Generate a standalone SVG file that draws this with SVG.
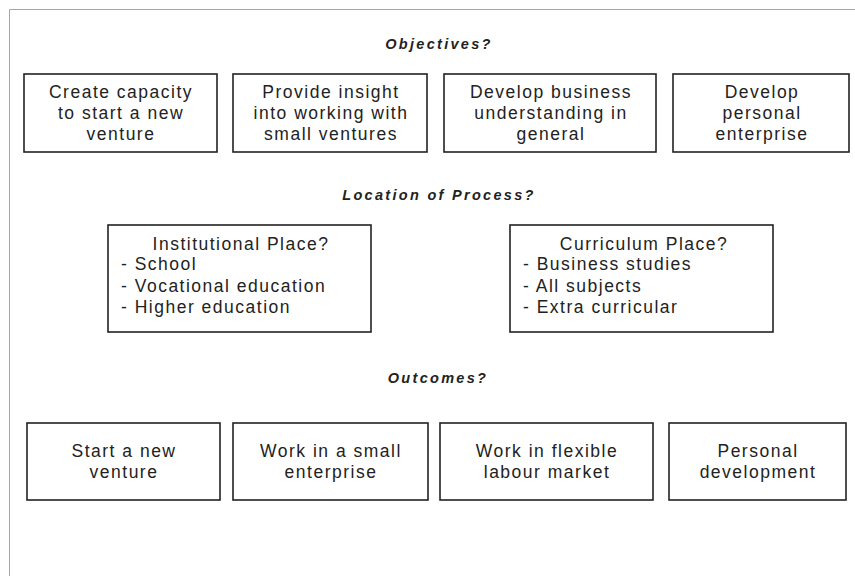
<svg xmlns="http://www.w3.org/2000/svg" width="855" height="576" viewBox="0 0 855 576">
  <style>
    .frame { stroke: #a6a6a6; stroke-width: 1; fill: none; }
    .box { fill: #ffffff; stroke: #222222; stroke-width: 1.6; }
    .txt { font-family: "Liberation Sans", Arial, sans-serif; font-size: 17.5px; fill: #222222; letter-spacing: 1.5px; }
    .mid { text-anchor: middle; }
    .head { font-family: "Liberation Sans", Arial, sans-serif; font-size: 14.5px; font-weight: bold; font-style: italic; fill: #222222; letter-spacing: 2.3px; text-anchor: middle; }
  </style>
  <rect width="855" height="576" fill="#ffffff"/>

  <!-- page frame -->
  <g id="frame">
    <line class="frame" x1="9.5" y1="9.5" x2="855" y2="9.5"/>
    <line class="frame" x1="9.5" y1="9.5" x2="9.5" y2="576"/>
  </g>

  <!-- section headings -->
  <g id="headings">
    <text class="head" x="439" y="49">Objectives?</text>
    <text class="head" x="439" y="200">Location of Process?</text>
    <text class="head" x="438" y="383">Outcomes?</text>
  </g>

  <!-- objectives row -->
  <g id="obj1">
    <rect class="box" x="24" y="74" width="193" height="78"/>
    <text class="txt mid" x="121" y="98">Create capacity</text>
    <text class="txt mid" x="121" y="119">to start a new</text>
    <text class="txt mid" x="121" y="140">venture</text>
  </g>
  <g id="obj2">
    <rect class="box" x="233" y="74" width="194" height="78"/>
    <text class="txt mid" x="331" y="98">Provide insight</text>
    <text class="txt mid" x="331" y="119">into working with</text>
    <text class="txt mid" x="331" y="140">small ventures</text>
  </g>
  <g id="obj3">
    <rect class="box" x="444" y="74" width="212" height="78"/>
    <text class="txt mid" x="551" y="98">Develop business</text>
    <text class="txt mid" x="551" y="119">understanding in</text>
    <text class="txt mid" x="551" y="140">general</text>
  </g>
  <g id="obj4">
    <rect class="box" x="673" y="74" width="176" height="78"/>
    <text class="txt mid" x="762" y="98">Develop</text>
    <text class="txt mid" x="762" y="119">personal</text>
    <text class="txt mid" x="762" y="140">enterprise</text>
  </g>

  <!-- location row -->
  <g id="loc-institution">
    <rect class="box" x="108" y="225" width="263" height="107"/>
    <text class="txt mid" x="241" y="250">Institutional Place?</text>
    <text class="txt" x="121" y="270">- School</text>
    <text class="txt" x="121" y="292">- Vocational education</text>
    <text class="txt" x="121" y="313">- Higher education</text>
  </g>
  <g id="loc-curriculum">
    <rect class="box" x="510" y="225" width="263" height="107"/>
    <text class="txt mid" x="644" y="250">Curriculum Place?</text>
    <text class="txt" x="523" y="270">- Business studies</text>
    <text class="txt" x="523" y="292">- All subjects</text>
    <text class="txt" x="523" y="313">- Extra curricular</text>
  </g>

  <!-- outcomes row -->
  <g id="out1">
    <rect class="box" x="27" y="423" width="193" height="77"/>
    <text class="txt mid" x="124" y="457">Start a new</text>
    <text class="txt mid" x="124" y="478">venture</text>
  </g>
  <g id="out2">
    <rect class="box" x="233" y="423" width="195" height="77"/>
    <text class="txt mid" x="331" y="457">Work in a small</text>
    <text class="txt mid" x="331" y="478">enterprise</text>
  </g>
  <g id="out3">
    <rect class="box" x="440" y="423" width="213" height="77"/>
    <text class="txt mid" x="547" y="457">Work in flexible</text>
    <text class="txt mid" x="547" y="478">labour market</text>
  </g>
  <g id="out4">
    <rect class="box" x="669" y="423" width="177" height="77"/>
    <text class="txt mid" x="758" y="457">Personal</text>
    <text class="txt mid" x="758" y="478">development</text>
  </g>

  <!-- no connectors are drawn between the boxes -->
  <g id="connectors"/>
</svg>
